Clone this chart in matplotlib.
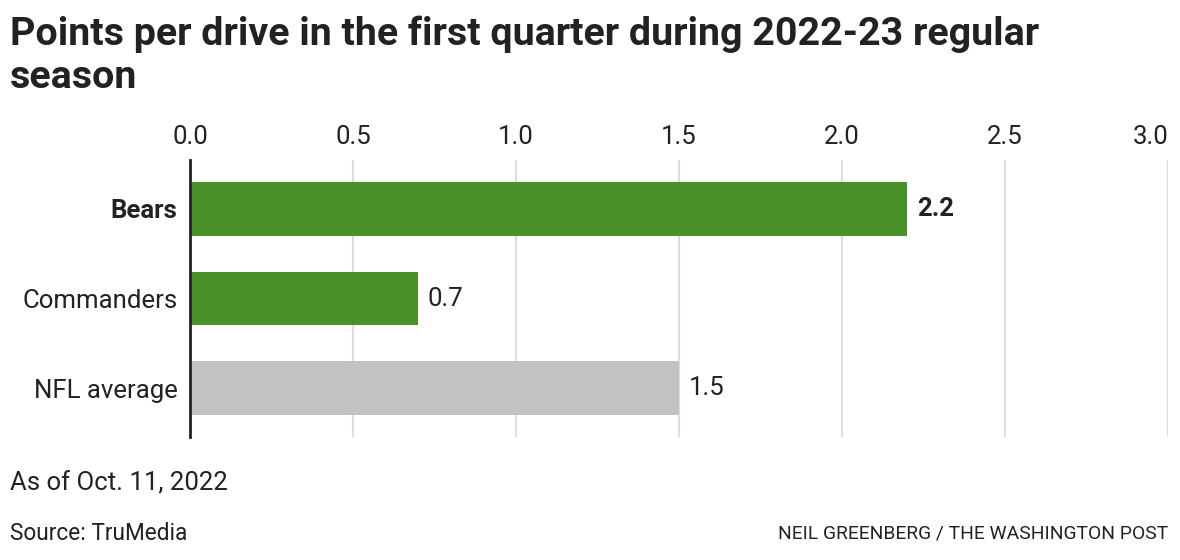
import matplotlib
matplotlib.use("Agg")
import matplotlib.pyplot as plt

# data
teams = ["Bears", "Commanders", "NFL average"]
points = [2.2, 0.7, 1.5]
colors = ["#4a9228", "#4a9228", "#c2c2c2"]
ticks = [0.0, 0.5, 1.0, 1.5, 2.0, 2.5, 3.0]

plt.rcParams['font.family'] = ['Roboto', 'DejaVu Sans']
dark = "#222222"

fig = plt.figure(figsize=(11.8, 5.6), dpi=100)
ax = fig.add_axes([190 / 1180, 1 - 437 / 560, (1168 - 190) / 1180, 277 / 560])

ypos = list(range(len(teams)))
ax.barh(ypos, points, height=0.6, color=colors, zorder=2)
ax.set_xlim(0, 3.0)
ax.set_ylim(2.54, -0.54)

ax.set_xticks(ticks)
ax.set_xticklabels([f"{t:.1f}" for t in ticks], fontsize=18.5, color=dark)
ax.xaxis.tick_top()
ax.tick_params(axis="x", length=0, pad=8)
ax.xaxis.get_major_ticks()[-1].label2.set_horizontalalignment("right")
ax.grid(axis="x", color="#dddddd", linewidth=1.5, zorder=0)

ax.set_yticks(ypos)
ax.set_yticklabels(teams, fontsize=18.5, color=dark)
ax.tick_params(axis="y", length=0, pad=9)
ax.get_yticklabels()[0].set_fontweight("bold")

for s in ["top", "right", "bottom"]:
    ax.spines[s].set_visible(False)
ax.spines["left"].set_color(dark)
ax.spines["left"].set_linewidth(2)
ax.spines["left"].set_zorder(3)

for i, v in enumerate(points):
    ax.annotate(f"{v:.1f}", (v, i), xytext=(7, 0), textcoords="offset points",
                va="center", ha="left", fontsize=18.5, color=dark,
                fontweight="bold" if i == 0 else "normal")

fig.text(10 / 1180, 1 - 56 / 560,
         "Points per drive in the first quarter during 2022-23 regular\nseason",
         fontsize=28.4, fontweight="bold", color=dark, va="center",
         linespacing=1.2)
fig.text(10 / 1180, 1 - 484 / 560, "As of Oct. 11, 2022", fontsize=18.5,
         color=dark, va="center")
fig.text(10 / 1180, 1 - 533 / 560, "Source: TruMedia", fontsize=16.3,
         color=dark, va="center")
fig.text(1168 / 1180, 1 - 533 / 560, "NEIL GREENBERG / THE WASHINGTON POST",
         fontsize=13.9, color=dark, va="center", ha="right")

fig.savefig("out.png", dpi=100)
